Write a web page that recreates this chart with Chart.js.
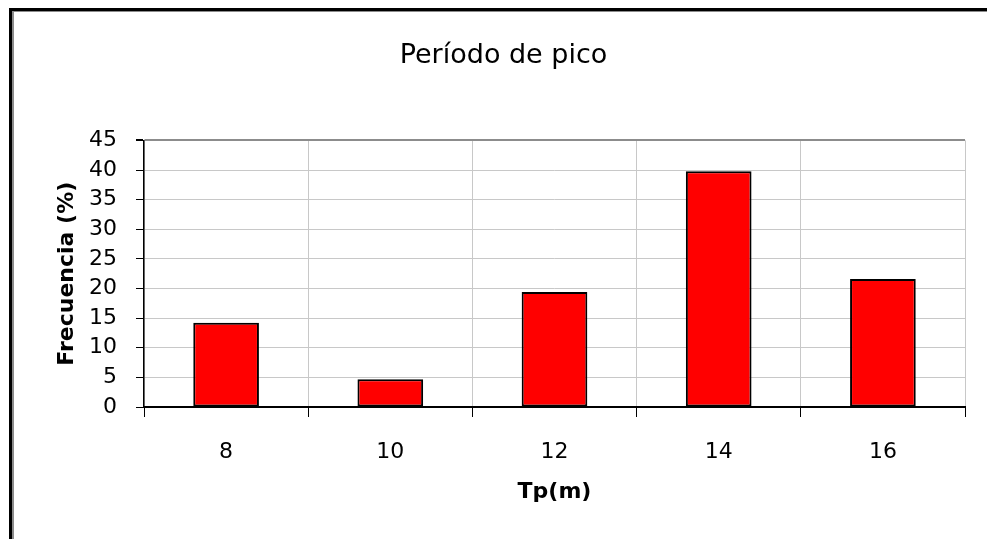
<!DOCTYPE html>
<html>
<head>
<meta charset="utf-8">
<script src="https://cdn.jsdelivr.net/npm/chart.js@4"></script>
<style>
  html, body { margin: 0; padding: 0; background: #fff; }
  #wrap { width: 987px; height: 539px; position: relative; }
</style>
</head>
<body>
<div id="wrap"><canvas id="myChart" width="987" height="539"></canvas></div>
<script>
// Chart data
const categories = ['8', '10', '12', '14', '16'];
const frecuencia = [14.2, 4.7, 19.4, 39.8, 21.6];
const yTicks = [0, 5, 10, 15, 20, 25, 30, 35, 40, 45];

// Draws the white background and the old-style frame on the left and top
const framePlugin = {
    id: 'frame',
    beforeDraw(chart) {
        const ctx = chart.ctx;
        ctx.save();
        ctx.fillStyle = '#ffffff';
        ctx.fillRect(0, 0, chart.width, chart.height);
        ctx.fillStyle = '#000000';
        ctx.fillRect(9, 8, 3, chart.height - 8);
        ctx.fillRect(9, 8, chart.width - 9, 3);
        ctx.fillStyle = '#8c8c8c';
        ctx.fillRect(12, 11, 2, chart.height - 11);
        ctx.fillRect(12, 11, chart.width - 12, 1);
        ctx.restore();
    }
};

const ctx = document.getElementById('myChart').getContext('2d');
const myChart = new Chart(ctx, {
    type: 'bar',
    data: {
        labels: categories,
        datasets: [{
            label: 'Frecuencia (%)',
            data: frecuencia,
            backgroundColor: '#ff0000',
            borderColor: '#000000',
            borderWidth: 2,
            borderSkipped: false,
            barPercentage: 0.4,
            categoryPercentage: 1.0
        }]
    },
    options: {
        responsive: false,
        animation: false,
        layout: { padding: { left: 42, right: 22, top: 10, bottom: 0 } },
        plugins: {
            legend: { display: false },
            tooltip: { enabled: false },
            title: {
                display: true,
                text: 'Período de pico',
                color: '#000',
                font: { family: 'DejaVu Sans', size: 27, weight: 'normal' },
                padding: { top: 30, bottom: 68 }
            }
        },
        scales: {
            x: {
                offset: true,
                grid: {
                    offset: true,
                    color: c => c.index === categories.length ? '#8c8c8c' : '#c8c8c8',
                    lineWidth: c => c.index === categories.length ? 2 : 1,
                    tickColor: '#000',
                    tickLength: 10
                },
                border: { color: '#000', width: 2 },
                ticks: {
                    color: '#000',
                    padding: 22,
                    font: { family: 'DejaVu Sans', size: 22 }
                },
                title: {
                    display: true,
                    text: 'Tp(m)',
                    color: '#000',
                    font: { family: 'DejaVu Sans', size: 22, weight: 'bold' },
                    padding: { top: 0, bottom: 34 }
                },
                afterFit: scale => { scale.height = 132; }
            },
            y: {
                min: 0,
                max: 45,
                afterBuildTicks: scale => { scale.ticks = yTicks.map(v => ({ value: v })); },
                grid: {
                    color: c => c.tick && c.tick.value === 45 ? '#8c8c8c' : '#c8c8c8',
                    lineWidth: c => c.tick && c.tick.value === 45 ? 2 : 1,
                    tickColor: '#000',
                    tickLength: 8
                },
                border: { color: '#000', width: 1.5 },
                ticks: {
                    color: '#000',
                    padding: 19,
                    font: { family: 'DejaVu Sans', size: 22 }
                },
                title: {
                    display: true,
                    text: 'Frecuencia (%)',
                    color: '#000',
                    font: { family: 'DejaVu Sans', size: 22, weight: 'bold' },
                    padding: { top: 12, bottom: 0 }
                },
                afterFit: scale => { scale.width = 102; }
            }
        }
    },
    plugins: [framePlugin]
});
</script>
</body>
</html>
